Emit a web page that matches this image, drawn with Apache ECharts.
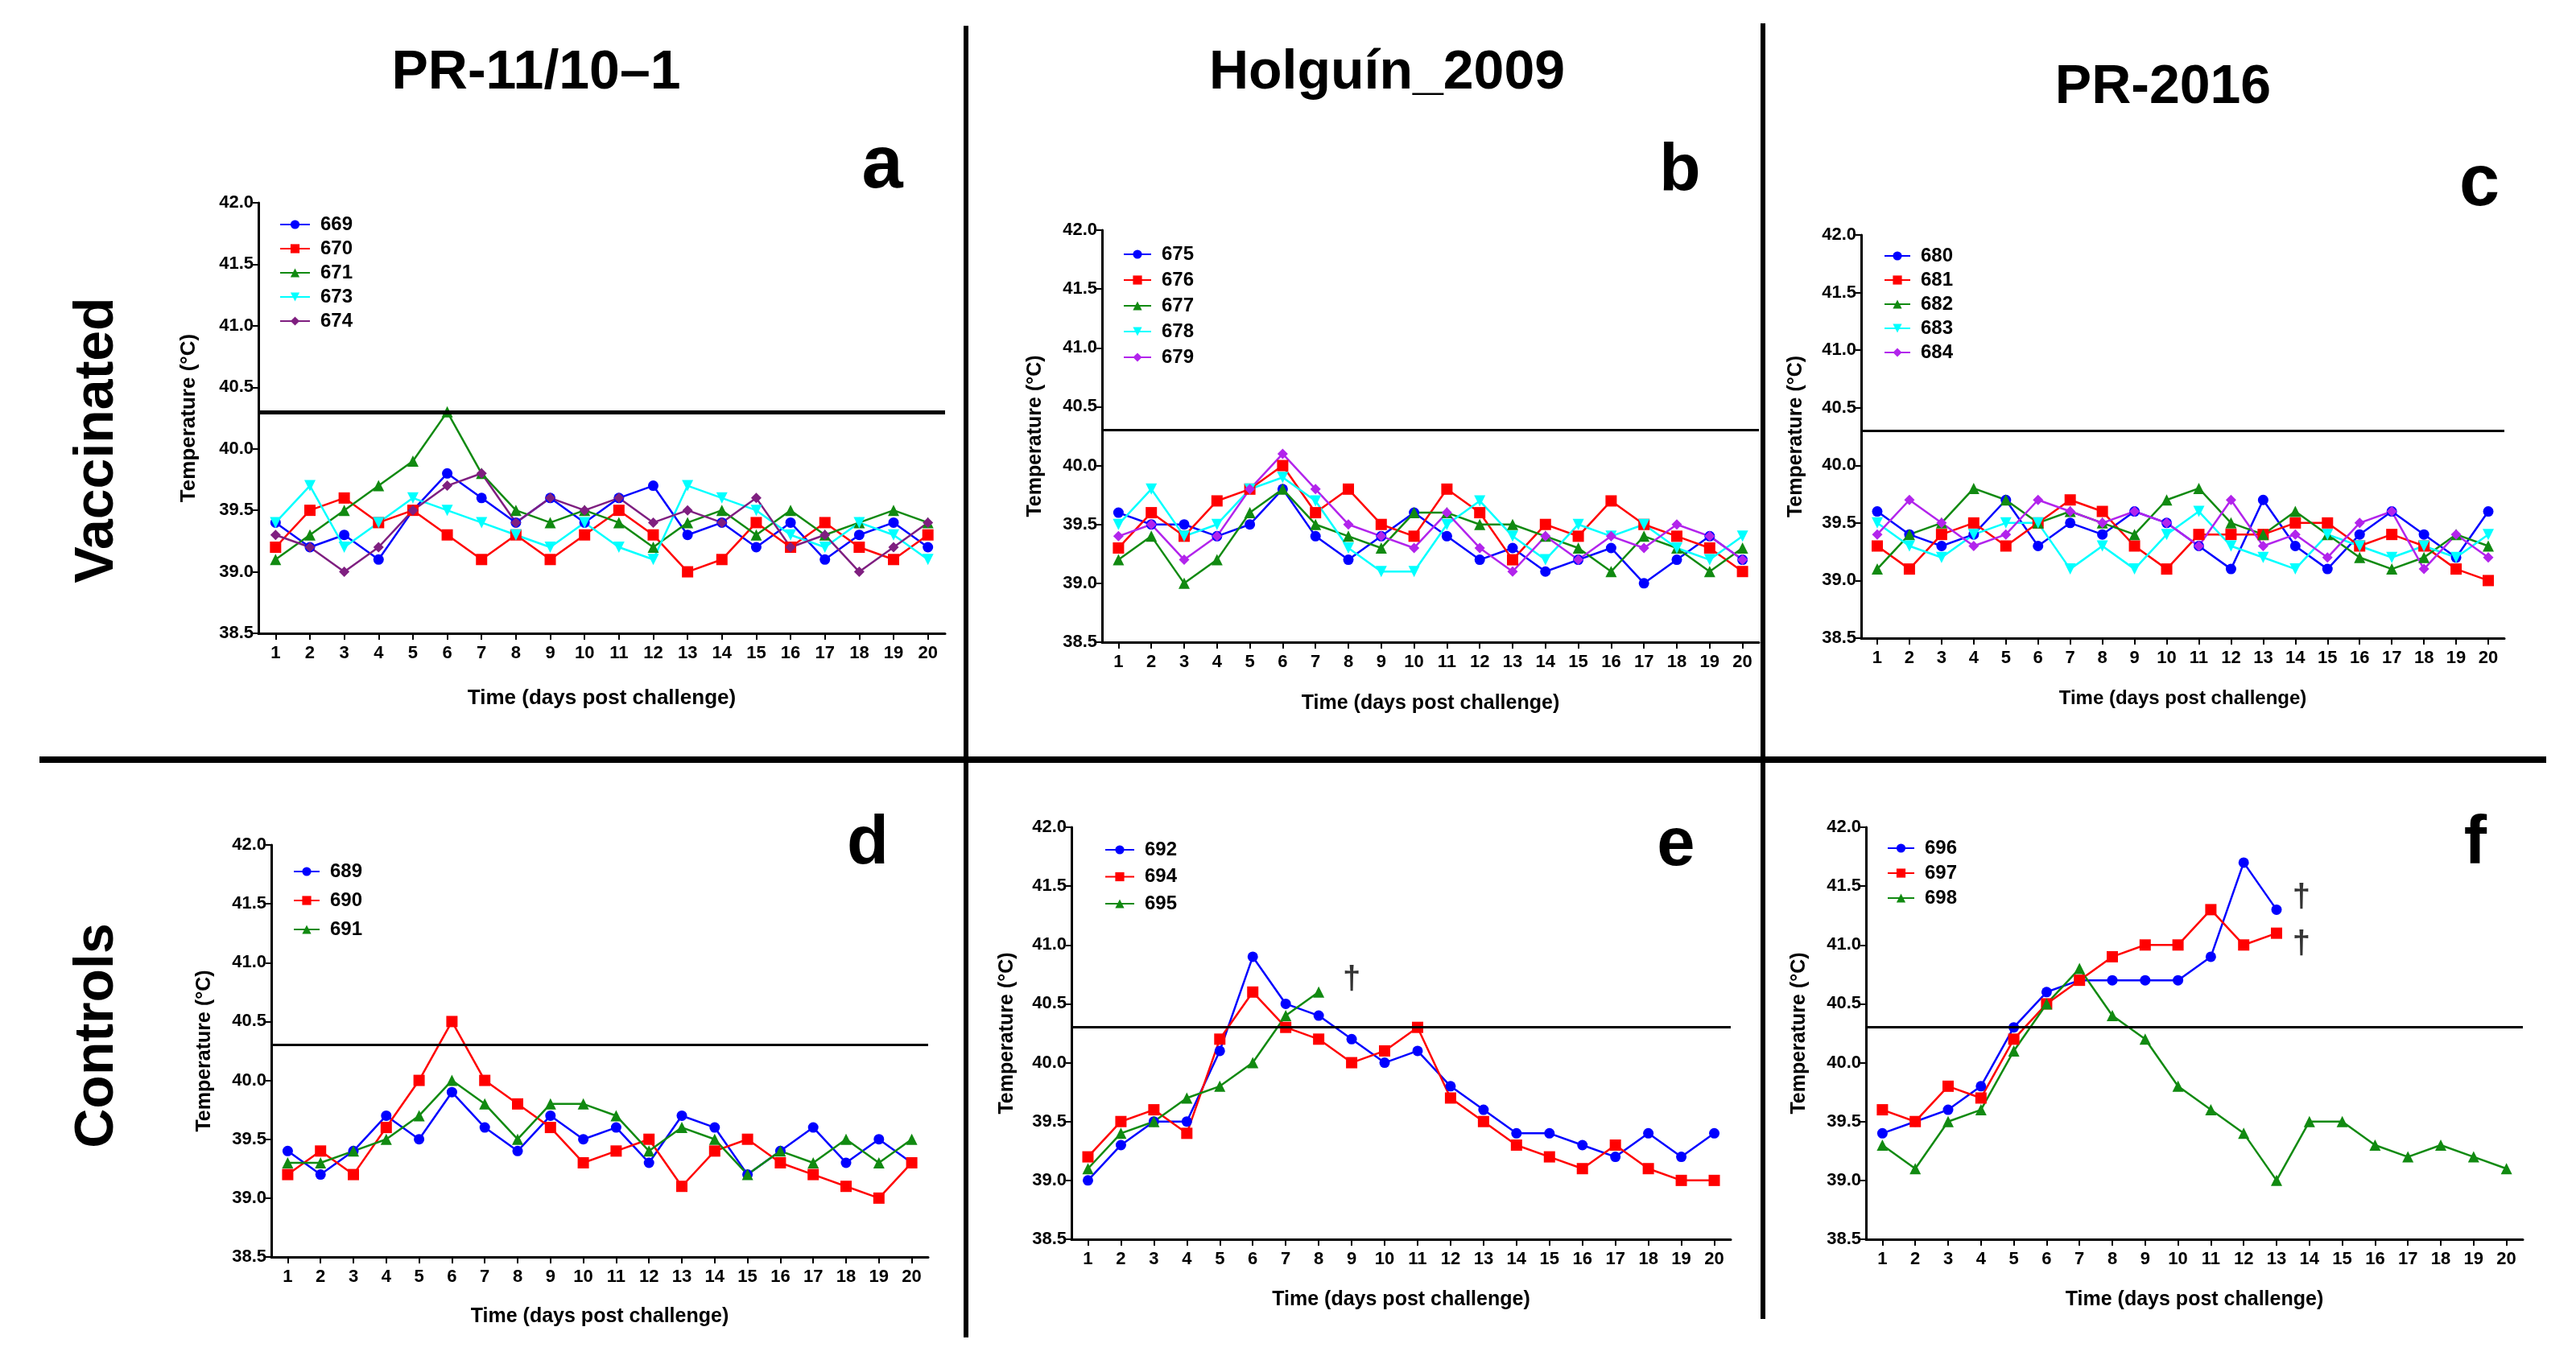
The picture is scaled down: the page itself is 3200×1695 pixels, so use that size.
<!DOCTYPE html>
<html><head><meta charset="utf-8">
<script src="https://cdn.jsdelivr.net/npm/echarts@6/dist/echarts.min.js"></script>
<style>html,body{margin:0;padding:0;background:#fff}#c{width:3200px;height:1695px}</style>
</head><body><div id="c"></div>
<script>
// ---------- data ----------
const DAYS = ['1','2','3','4','5','6','7','8','9','10','11','12','13','14','15','16','17','18','19','20'];
const Y_MIN = 38.5, Y_MAX = 42.0, Y_STEP = 0.5;
const THRESHOLD = 40.3;
const COLUMN_TITLES = ['PR-11/10\u20131', 'Holgu\u00edn_2009', 'PR-2016'];
const ROW_TITLES = ['Vaccinated', 'Controls'];
const PANEL_LETTERS = ['a', 'b', 'c', 'd', 'e', 'f'];
const X_NAME = 'Time (days post challenge)';
const Y_NAME = 'Temperature (\u00b0C)';

// panel a
const A_NAMES = ['669', '670', '671', '673', '674'];
const A_669 = [39.4,39.2,39.3,39.1,39.5,39.8,39.6,39.4,39.6,39.4,39.6,39.7,39.3,39.4,39.2,39.4,39.1,39.3,39.4,39.2];
const A_670 = [39.2,39.5,39.6,39.4,39.5,39.3,39.1,39.3,39.1,39.3,39.5,39.3,39.0,39.1,39.4,39.2,39.4,39.2,39.1,39.3];
const A_671 = [39.1,39.3,39.5,39.7,39.9,40.3,39.8,39.5,39.4,39.5,39.4,39.2,39.4,39.5,39.3,39.5,39.3,39.4,39.5,39.4];
const A_673 = [39.4,39.7,39.2,39.4,39.6,39.5,39.4,39.3,39.2,39.4,39.2,39.1,39.7,39.6,39.5,39.3,39.2,39.4,39.3,39.1];
const A_674 = [39.3,39.2,39.0,39.2,39.5,39.7,39.8,39.4,39.6,39.5,39.6,39.4,39.5,39.4,39.6,39.2,39.3,39.0,39.2,39.4];
// panel b
const B_NAMES = ['675', '676', '677', '678', '679'];
const B_675 = [39.6,39.5,39.5,39.4,39.5,39.8,39.4,39.2,39.4,39.6,39.4,39.2,39.3,39.1,39.2,39.3,39.0,39.2,39.4,39.2];
const B_676 = [39.3,39.6,39.4,39.7,39.8,40.0,39.6,39.8,39.5,39.4,39.8,39.6,39.2,39.5,39.4,39.7,39.5,39.4,39.3,39.1];
const B_677 = [39.2,39.4,39.0,39.2,39.6,39.8,39.5,39.4,39.3,39.6,39.6,39.5,39.5,39.4,39.3,39.1,39.4,39.3,39.1,39.3];
const B_678 = [39.5,39.8,39.4,39.5,39.8,39.9,39.7,39.3,39.1,39.1,39.5,39.7,39.4,39.2,39.5,39.4,39.5,39.3,39.2,39.4];
const B_679 = [39.4,39.5,39.2,39.4,39.8,40.1,39.8,39.5,39.4,39.3,39.6,39.3,39.1,39.4,39.2,39.4,39.3,39.5,39.4,39.2];
// panel c
const C_NAMES = ['680', '681', '682', '683', '684'];
const C_680 = [39.6,39.4,39.3,39.4,39.7,39.3,39.5,39.4,39.6,39.5,39.3,39.1,39.7,39.3,39.1,39.4,39.6,39.4,39.2,39.6];
const C_681 = [39.3,39.1,39.4,39.5,39.3,39.5,39.7,39.6,39.3,39.1,39.4,39.4,39.4,39.5,39.5,39.3,39.4,39.3,39.1,39.0];
const C_682 = [39.1,39.4,39.5,39.8,39.7,39.5,39.6,39.5,39.4,39.7,39.8,39.5,39.4,39.6,39.4,39.2,39.1,39.2,39.4,39.3];
const C_683 = [39.5,39.3,39.2,39.4,39.5,39.5,39.1,39.3,39.1,39.4,39.6,39.3,39.2,39.1,39.4,39.3,39.2,39.3,39.2,39.4];
const C_684 = [39.4,39.7,39.5,39.3,39.4,39.7,39.6,39.5,39.6,39.5,39.3,39.7,39.3,39.4,39.2,39.5,39.6,39.1,39.4,39.2];
// panel d
const D_NAMES = ['689', '690', '691'];
const D_689 = [39.4,39.2,39.4,39.7,39.5,39.9,39.6,39.4,39.7,39.5,39.6,39.3,39.7,39.6,39.2,39.4,39.6,39.3,39.5,39.3];
const D_690 = [39.2,39.4,39.2,39.6,40.0,40.5,40.0,39.8,39.6,39.3,39.4,39.5,39.1,39.4,39.5,39.3,39.2,39.1,39.0,39.3];
const D_691 = [39.3,39.3,39.4,39.5,39.7,40.0,39.8,39.5,39.8,39.8,39.7,39.4,39.6,39.5,39.2,39.4,39.3,39.5,39.3,39.5];
// panel e
const E_NAMES = ['692', '694', '695'];
const E_692 = [39.0,39.3,39.5,39.5,40.1,40.9,40.5,40.4,40.2,40.0,40.1,39.8,39.6,39.4,39.4,39.3,39.2,39.4,39.2,39.4];
const E_694 = [39.2,39.5,39.6,39.4,40.2,40.6,40.3,40.2,40.0,40.1,40.3,39.7,39.5,39.3,39.2,39.1,39.3,39.1,39.0,39.0];
const E_695 = [39.1,39.4,39.5,39.7,39.8,40.0,40.4,40.6,null,null,null,null,null,null,null,null,null,null,null,null];
const E_DAGGERS = [['9', 40.7]];
// panel f
const F_NAMES = ['696', '697', '698'];
const F_696 = [39.4,39.5,39.6,39.8,40.3,40.6,40.7,40.7,40.7,40.7,40.9,41.7,41.3,null,null,null,null,null,null,null];
const F_697 = [39.6,39.5,39.8,39.7,40.2,40.5,40.7,40.9,41.0,41.0,41.3,41.0,41.1,null,null,null,null,null,null,null];
const F_698 = [39.3,39.1,39.5,39.6,40.1,40.5,40.8,40.4,40.2,39.8,39.6,39.4,39.0,39.5,39.5,39.3,39.2,39.3,39.2,39.1];
const F_DAGGERS = [['14', 41.4], ['14', 41.0]];

// ---------- styling / layout ----------
const FONT = "'Liberation Sans', Arial, sans-serif";
const BLUE = '#0000ff', RED = '#ff0000', GREEN = '#118a11', CYAN = '#00ffff';
const PURPLE_A = '#7f1f80', VIOLET = '#b224ec';
const INV_TRI = 'path://M0,0 L10,0 L5,9 Z';
const SYM5 = ['circle', 'rect', 'triangle', INV_TRI, 'diamond'];
const SYM3 = ['circle', 'rect', 'triangle'];
const SYM_SIZE = {circle: 13, rect: 14, triangle: 14, diamond: 13};

const PANELS = [
  { grid: {left: 321, top: 252, width: 853, height: 535}, names: A_NAMES, data: [A_669, A_670, A_671, A_673, A_674],
    colors: [BLUE, RED, GREEN, CYAN, PURPLE_A], symbols: SYM5,
    legend: {left: 342, top: 262, gap: 6, w: 37}, yGap: 73, xGap: 68, yNs: 26, xNs: 26, thr: 5 },
  { grid: {left: 1369, top: 286, width: 816, height: 512}, names: B_NAMES, data: [B_675, B_676, B_677, B_678, B_679],
    colors: [BLUE, RED, GREEN, CYAN, VIOLET], symbols: SYM5,
    legend: {left: 1390, top: 299, gap: 8, w: 34}, yGap: 70, xGap: 64, yNs: 25, xNs: 25, thr: 3 },
  { grid: {left: 2312, top: 292, width: 799, height: 501}, names: C_NAMES, data: [C_680, C_681, C_682, C_683, C_684],
    colors: [BLUE, RED, GREEN, CYAN, VIOLET], symbols: SYM5,
    legend: {left: 2335, top: 301, gap: 6, w: 32}, yGap: 68, xGap: 63, yNs: 25, xNs: 24, thr: 3 },
  { grid: {left: 337, top: 1050, width: 816, height: 512}, names: D_NAMES, data: [D_689, D_690, D_691],
    colors: [BLUE, RED, GREEN], symbols: SYM3,
    legend: {left: 359, top: 1066, gap: 12, w: 32}, yGap: 70, xGap: 62, yNs: 25, xNs: 25, thr: 3 },
  { grid: {left: 1331, top: 1028, width: 819, height: 512}, names: E_NAMES, data: [E_692, E_694, E_695],
    colors: [BLUE, RED, GREEN], symbols: SYM3, daggers: E_DAGGERS, daggerDx: 0,
    legend: {left: 1367, top: 1039, gap: 9.5, w: 36}, yGap: 67, xGap: 63, yNs: 25, xNs: 25, thr: 3 },
  { grid: {left: 2318, top: 1028, width: 816, height: 512}, names: F_NAMES, data: [F_696, F_697, F_698],
    colors: [BLUE, RED, GREEN], symbols: SYM3, daggers: F_DAGGERS, daggerDx: -10,
    legend: {left: 2339, top: 1037, gap: 7, w: 33}, yGap: 70, xGap: 63, yNs: 25, xNs: 25, thr: 3 }
];

// ---------- build option ----------
const grids = [], xAxes = [], yAxes = [], series = [], legends = [];
PANELS.forEach((p, i) => {
  grids.push(Object.assign({outerBoundsMode: 'none', containLabel: false}, p.grid));
  xAxes.push({
    type: 'category', gridIndex: i, data: DAYS, boundaryGap: true,
    name: X_NAME, nameLocation: 'middle', nameGap: p.xGap,
    nameTextStyle: {fontFamily: FONT, fontWeight: 'bold', fontSize: p.xNs, color: '#000'},
    axisLine: {lineStyle: {color: '#000', width: 3}},
    axisTick: {show: true, alignWithLabel: true, length: 8, lineStyle: {color: '#000', width: 2}},
    axisLabel: {fontFamily: FONT, fontWeight: 'bold', fontSize: 22, color: '#000', margin: 14, interval: 0},
    splitLine: {show: false}
  });
  yAxes.push({
    type: 'value', gridIndex: i, min: Y_MIN, max: Y_MAX, interval: Y_STEP,
    name: Y_NAME, nameLocation: 'middle', nameGap: p.yGap,
    nameTextStyle: {fontFamily: FONT, fontWeight: 'bold', fontSize: p.yNs, color: '#000'},
    axisLine: {show: true, lineStyle: {color: '#000', width: 3}},
    axisTick: {show: true, length: 7, lineStyle: {color: '#000', width: 2}},
    axisLabel: {fontFamily: FONT, fontWeight: 'bold', fontSize: 22, color: '#000', margin: 6,
      formatter: v => v.toFixed(1)},
    splitLine: {show: false}
  });
  p.names.forEach((nm, k) => {
    const sym = p.symbols[k];
    const s = {
      type: 'line', name: nm, xAxisIndex: i, yAxisIndex: i, data: p.data[k],
      symbol: sym, symbolSize: SYM_SIZE[sym] || 14,
      showAllSymbol: true, connectNulls: false,
      lineStyle: {color: p.colors[k], width: 2.5},
      itemStyle: {color: p.colors[k]},
      z: 3
    };
    if (k === 0) {
      s.markLine = {
        silent: true, symbol: ['none', 'none'], animation: false,
        label: {show: false},
        lineStyle: {color: '#000', width: p.thr, type: 'solid'},
        data: [{yAxis: THRESHOLD}]
      };
    }
    series.push(s);
  });
  if (p.daggers) {
    series.push({
      type: 'scatter', name: 'dagger' + i, xAxisIndex: i, yAxisIndex: i, data: p.daggers,
      symbolSize: 1, silent: true, itemStyle: {color: 'rgba(0,0,0,0)'},
      label: {show: true, position: 'inside', offset: [p.daggerDx, 0], formatter: '\u2020', fontFamily: FONT,
        fontWeight: 'bold', fontSize: 40, color: '#000'}
    });
  }
  legends.push({
    data: p.names, orient: 'vertical', left: p.legend.left, top: p.legend.top,
    itemGap: p.legend.gap, itemWidth: p.legend.w, itemHeight: 14, selectedMode: false,
    textStyle: {fontFamily: FONT, fontWeight: 'bold', fontSize: 24, lineHeight: 24, color: '#000',
      padding: [0, 0, 0, 8]}
  });
});

// text + dividers
const txt = (t, x, y, size, rot) => ({
  type: 'text', x: x, y: y, rotation: rot || 0, silent: true,
  style: {text: t, fontFamily: FONT, fontWeight: 'bold', fontSize: size, fill: '#000',
    textAlign: 'center', textVerticalAlign: 'middle'}
});
const graphics = [
  txt(COLUMN_TITLES[0], 666, 91, 68),
  txt(COLUMN_TITLES[1], 1723, 91, 68),
  txt(COLUMN_TITLES[2], 2687, 109, 68),
  txt(ROW_TITLES[0], 121, 547, 68, Math.PI / 2),
  txt(ROW_TITLES[1], 121, 1287, 68, Math.PI / 2),
  txt(PANEL_LETTERS[0], 1096, 208, 92),
  txt(PANEL_LETTERS[1], 2087, 214, 84),
  txt(PANEL_LETTERS[2], 3080, 230, 90),
  txt(PANEL_LETTERS[3], 1078, 1050, 85),
  txt(PANEL_LETTERS[4], 2082, 1052, 85),
  txt(PANEL_LETTERS[5], 3075, 1050, 85),
  {type: 'line', silent: true, shape: {x1: 1200, y1: 32, x2: 1200, y2: 1662}, style: {stroke: '#000', lineWidth: 6}},
  {type: 'line', silent: true, shape: {x1: 2190, y1: 29, x2: 2190, y2: 1639}, style: {stroke: '#000', lineWidth: 6}},
  {type: 'line', silent: true, shape: {x1: 49, y1: 944, x2: 3163, y2: 944}, style: {stroke: '#000', lineWidth: 8}}
];

const chart = echarts.init(document.getElementById('c'), null, {renderer: 'canvas', width: 3200, height: 1695});
chart.setOption({
  animation: false,
  backgroundColor: '#fff',
  grid: grids, xAxis: xAxes, yAxis: yAxes, series: series, legend: legends,
  graphic: graphics
});
</script></body></html>
